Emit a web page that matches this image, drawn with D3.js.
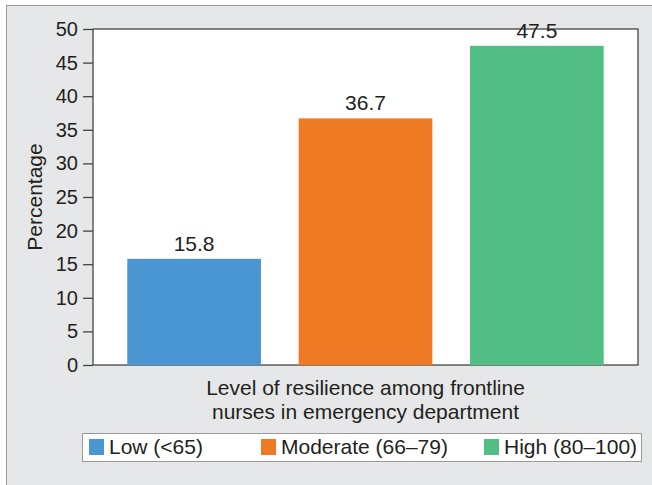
<!DOCTYPE html>
<html>
<head>
<meta charset="utf-8">
<script src="https://cdn.jsdelivr.net/npm/d3@7"></script>
<style>
  body { margin: 0; background: #fff; }
  text { font-family: "Liberation Sans", Arial, sans-serif; fill: #231f20; }
</style>
</head>
<body>
<div id="chart"></div>
<script>
// data
var categories = ["Low (<65)", "Moderate (66\u201379)", "High (80\u2013100)"];
var values = [15.8, 36.7, 47.5];
var colors = ["#4a96d2", "#ee7a24", "#52be85"];
var yTicks = [0, 5, 10, 15, 20, 25, 30, 35, 40, 45, 50];
var xTitle = ["Level of resilience among frontline", "nurses in emergency department"];
var yTitle = "Percentage";

var W = 652, H = 485;
var margin = { top: 29, right: 14, bottom: 120, left: 93 },
  width = W - margin.left - margin.right,
  height = H - margin.top - margin.bottom;

var svg = d3.select("#chart").append("svg")
  .attr("width", W)
  .attr("height", H);

// grey panel behind everything
svg.append("rect")
  .attr("x", 6.5).attr("y", 5.5)
  .attr("width", W).attr("height", H)
  .attr("fill", "#e6e7e8")
  .attr("stroke", "#9a9a9a");

var g = svg.append("g")
  .attr("transform", "translate(" + margin.left + "," + margin.top + ")");

// set the ranges
var x = d3.scaleBand().domain(categories).range([0, width])
  .paddingInner(0.22).paddingOuter(0.2);
var y = d3.scaleLinear().domain([0, 50]).range([height, 0]);

// plot area
g.append("rect")
  .attr("width", width).attr("height", height)
  .attr("fill", "#fff")
  .attr("stroke", "#444")
  .attr("stroke-width", 1.3);

// bars
g.selectAll(".bar")
  .data(values)
  .enter().append("rect")
  .attr("class", "bar")
  .attr("x", function (d, i) { return x(categories[i]); })
  .attr("y", function (d) { return y(d); })
  .attr("width", x.bandwidth())
  .attr("height", function (d) { return height - y(d); })
  .attr("fill", function (d, i) { return colors[i]; });

// value labels
g.selectAll(".lbl")
  .data(values)
  .enter().append("text")
  .attr("class", "lbl")
  .attr("x", function (d, i) { return x(categories[i]) + x.bandwidth() / 2; })
  .attr("y", function (d) { return y(d) - 8; })
  .attr("text-anchor", "middle")
  .style("font-size", "21px")
  .text(function (d) { return d.toFixed(1); });

// y axis
var yAxis = g.append("g")
  .call(d3.axisLeft(y).tickValues(yTicks).tickSize(10).tickPadding(5));
yAxis.select(".domain").remove();
yAxis.selectAll("line").attr("stroke", "#444").attr("stroke-width", 1.3);
yAxis.selectAll("text")
  .style("font-size", "20px")
  .style("font-family", "Liberation Sans, Arial, sans-serif")
  .attr("fill", "#231f20");

// y title
g.append("text")
  .attr("transform", "translate(-51," + height / 2 + ") rotate(-90)")
  .attr("text-anchor", "middle")
  .style("font-size", "21px")
  .text(yTitle);

// x title
g.selectAll(".xt")
  .data(xTitle)
  .enter().append("text")
  .attr("class", "xt")
  .attr("x", width / 2)
  .attr("y", function (d, i) { return height + 30 + i * 24; })
  .attr("text-anchor", "middle")
  .style("font-size", "21px")
  .text(function (d) { return d; });

// legend
var legendX = [89, 261, 484];
var legend = svg.append("g");
legend.append("rect")
  .attr("x", 82.5).attr("y", 433.5)
  .attr("width", 559).attr("height", 28)
  .attr("fill", "#fff")
  .attr("stroke", "#9a9a9a");

var items = legend.selectAll(".item")
  .data(categories)
  .enter().append("g")
  .attr("transform", function (d, i) { return "translate(" + legendX[i] + ",439)"; });
items.append("rect")
  .attr("width", 15).attr("height", 16)
  .attr("fill", function (d, i) { return colors[i]; });
items.append("text")
  .attr("x", 20).attr("y", 15)
  .style("font-size", "21px")
  .text(function (d) { return d; });
</script>
</body>
</html>
